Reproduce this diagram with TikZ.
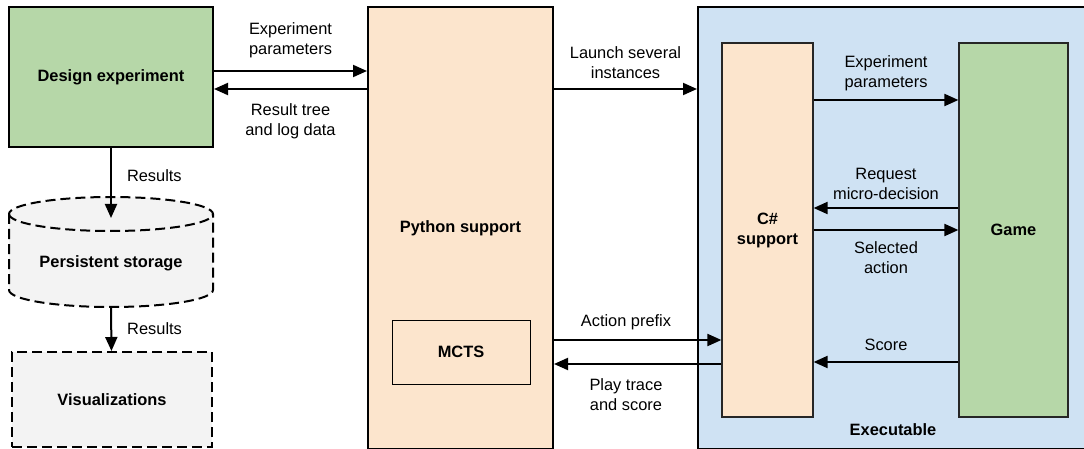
\documentclass[tikz,border=0pt]{standalone}
\usepackage{fontspec}
\setmainfont{Liberation Sans}
\usetikzlibrary{positioning,arrows.meta,calc}

\definecolor{boxgreen}{HTML}{B6D7A8}
\definecolor{boxpeach}{HTML}{FCE5CD}
\definecolor{boxblue}{HTML}{CFE2F3}
\definecolor{boxgray}{HTML}{F3F3F3}

\newcommand{\diagfont}{\fontsize{16.4}{20}\selectfont}

\tikzset{
  >={Triangle[length=14pt,width=12pt]},
  bigbox/.style={draw=black,line width=2pt,font=\diagfont\bfseries,
    align=center,inner sep=0pt},
  subbox/.style={draw=black!85,line width=1.2pt,font=\diagfont\bfseries,
    align=center,inner sep=0pt},
  dashbox/.style={draw=black,line width=2pt,dash pattern=on 10pt off 5pt,
    fill=boxgray},
  plaintxt/.style={font=\diagfont\bfseries,align=center,inner sep=0pt},
  flow/.style={->,line width=2pt},
  flowlbl/.style={font=\diagfont,align=center,inner sep=0pt},
}

\begin{document}
\begin{tikzpicture}[x=1pt,y=1pt]
  \useasboundingbox (0,0) rectangle (1084,-449);

  % left column: experiment, storage, plots
  \node[bigbox,fill=boxgreen,minimum width=204,minimum height=140]
    (design) at (111,-77) {Design experiment};
  \draw[dashbox] (9,-214) -- (9,-290)
    arc[start angle=180,end angle=360,x radius=102,y radius=17]
    -- (213,-214)
    arc[start angle=0,end angle=180,x radius=102,y radius=17] -- cycle;
  \draw[dashbox,fill=none] (9,-214)
    arc[start angle=180,end angle=360,x radius=102,y radius=17];
  \node[plaintxt] (store) at (111,-263) {Persistent storage};
  \coordinate (cyltop) at (111,-218);
  \coordinate (cylbot) at (111,-307);
  \node[dashbox,font=\diagfont\bfseries,minimum width=200,minimum height=95]
    (vis) at (112,-399.5) {Visualizations};

  % python side
  \node[bigbox,fill=boxpeach,minimum width=185,minimum height=442]
    (python) at (460.5,-228) {Python support};
  \node[draw=black,line width=1pt,font=\diagfont\bfseries,
    minimum width=138,minimum height=64] (mcts) at (461,-352) {MCTS};

  % executable with its two parts
  \node[bigbox,fill=boxblue,minimum width=390,minimum height=442]
    (exe) at (893,-228) {};
  \node[plaintxt,anchor=south] (exetitle) at ([yshift=14]exe.south) {Executable};
  \node[subbox,fill=boxpeach,minimum width=91,minimum height=374]
    (csharp) at (767.5,-230) {C\#\\support};
  \node[subbox,fill=boxgreen,minimum width=109,minimum height=374]
    (game) at (1013.5,-230) {Game};

  % connectors
  \draw[flow] (design) -- node[flowlbl,pos=0.4,right=15pt] {Results} (cyltop);
  \draw[flow] (cylbot) -- node[flowlbl,right=15pt] {Results} (vis);

  \draw[flow] ([yshift=6]design.east) -- ([yshift=6]design.east -| python.west)
    node[flowlbl,midway,above=12pt] {Experiment\\parameters};
  \draw[flow] ([yshift=-12]design.east -| python.west) -- ([yshift=-12]design.east)
    node[flowlbl,midway,below=14pt] {Result tree\\and log data};
  \draw[flow] ([yshift=139]python.east) -- ([yshift=139]python.east -| exe.west)
    node[flowlbl,midway,above=9pt] {Launch several\\instances};
  \draw[flow] ([yshift=-112]python.east) -- ([yshift=-112]python.east -| csharp.west)
    node[flowlbl,pos=0.43,above=9pt] {Action prefix};
  \draw[flow] ([yshift=-134]csharp.west) -- ([yshift=-134]csharp.west -| python.east)
    node[flowlbl,pos=0.57,below=14pt] {Play trace\\and score};

  \draw[flow] ([yshift=130]csharp.east) -- ([yshift=130]csharp.east -| game.west)
    node[flowlbl,midway,above=8pt] {Experiment\\parameters};
  \draw[flow] ([yshift=22]game.west) -- ([yshift=22]game.west -| csharp.east)
    node[flowlbl,midway,above=7pt] {Request\\micro-decision};
  \draw[flow] (csharp) -- node[flowlbl,below=11pt] {Selected\\action} (game);
  \draw[flow] ([yshift=-132]game.west) -- ([yshift=-132]game.west -| csharp.east)
    node[flowlbl,midway,above=10pt] {Score};
\end{tikzpicture}
\end{document}
